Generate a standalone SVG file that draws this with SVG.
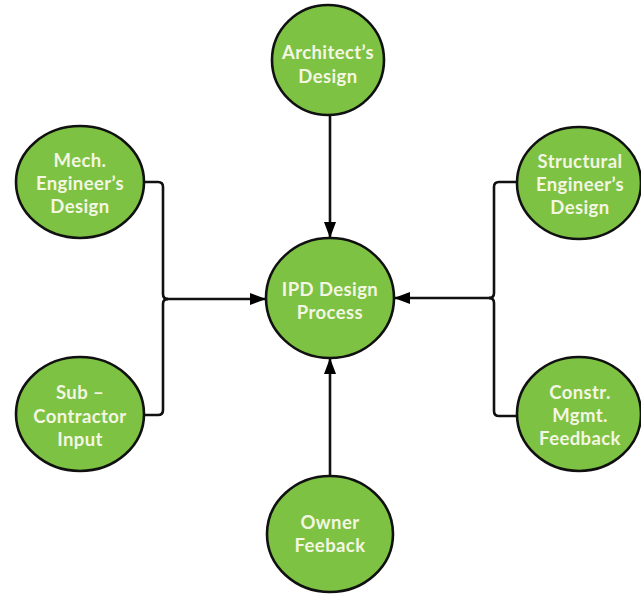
<svg xmlns="http://www.w3.org/2000/svg" width="641" height="594" viewBox="0 0 641 594">
  <defs>
    <marker id="arrow" markerUnits="userSpaceOnUse" markerWidth="16" markerHeight="12" refX="16" refY="6" orient="auto">
      <path d="M0,0 L16,6 L0,12 Z" fill="#000"/>
    </marker>
    <style>
      .node ellipse { fill: #7dc242; stroke: #111; stroke-width: 2.6; }
      .node text { fill: #f4f6e4; font-family: Lato, "Open Sans", sans-serif; font-weight: bold; font-size: 18.5px; text-anchor: middle; letter-spacing: 0.4px; }
      .conn { fill: none; stroke: #111; stroke-width: 2.6; }
    </style>
  </defs>
  <rect width="641" height="594" fill="#fff"/>

  <!-- connectors -->
  <g id="connectors">
    <line class="conn" x1="330" y1="116" x2="330" y2="238" marker-end="url(#arrow)"/>
    <line class="conn" x1="330" y1="476" x2="330" y2="358" marker-end="url(#arrow)"/>
    <path class="conn" d="M143,182 H158 Q163,182 163,187 V294 Q163,299 168,299"/>
    <path class="conn" d="M143,415 H158 Q163,415 163,410 V304 Q163,299 168,299"/>
    <line class="conn" x1="166" y1="299" x2="266" y2="299" marker-end="url(#arrow)"/>
    <path class="conn" d="M518,182 H499 Q494,182 494,187 V293 Q494,298 489,298"/>
    <path class="conn" d="M518,416 H499 Q494,416 494,411 V303 Q494,298 489,298"/>
    <line class="conn" x1="491" y1="298" x2="394" y2="298" marker-end="url(#arrow)"/>
  </g>

  <g id="architect" class="node">
    <ellipse cx="328" cy="60" rx="56" ry="55"/>
    <text x="328" y="59">Architect’s</text>
    <text x="328" y="83">Design</text>
  </g>

  <g id="ipd" class="node">
    <ellipse cx="330" cy="298" rx="64" ry="60"/>
    <text x="330" y="296">IPD Design</text>
    <text x="330" y="319">Process</text>
  </g>

  <g id="mech" class="node">
    <ellipse cx="80" cy="182" rx="64" ry="56"/>
    <text x="80" y="167">Mech.</text>
    <text x="80" y="190">Engineer’s</text>
    <text x="80" y="213">Design</text>
  </g>

  <g id="subcontractor" class="node">
    <ellipse cx="80" cy="414" rx="64" ry="57"/>
    <text x="80" y="399">Sub –</text>
    <text x="80" y="423">Contractor</text>
    <text x="80" y="446">Input</text>
  </g>

  <g id="structural" class="node">
    <ellipse cx="579" cy="183" rx="62" ry="56"/>
    <text x="580" y="168">Structural</text>
    <text x="580" y="191">Engineer’s</text>
    <text x="580" y="214">Design</text>
  </g>

  <g id="constr" class="node">
    <ellipse cx="579" cy="414" rx="62" ry="57"/>
    <text x="580" y="399">Constr.</text>
    <text x="580" y="422">Mgmt.</text>
    <text x="580" y="445">Feedback</text>
  </g>

  <g id="owner" class="node">
    <ellipse cx="330" cy="534" rx="63" ry="58"/>
    <text x="330" y="529">Owner</text>
    <text x="330" y="552">Feeback</text>
  </g>
</svg>
